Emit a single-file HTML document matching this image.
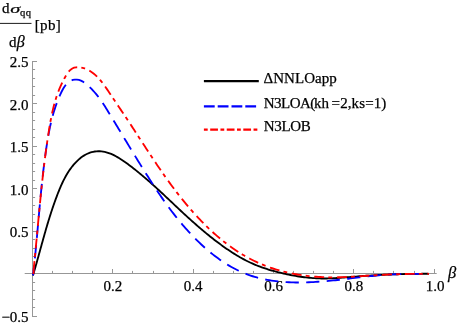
<!DOCTYPE html>
<html><head><meta charset="utf-8"><title>plot</title><style>
html,body{margin:0;padding:0;background:#fff;}
svg{display:block;will-change:transform;font-family:"Liberation Serif",serif;font-size:15px;fill:#000;}
text{stroke:#000;stroke-width:0.25px;}
</style></head><body>
<svg width="457" height="324" viewBox="0 0 457 324">
<rect width="457" height="324" fill="#fff"/>
<g stroke="#979797" stroke-width="1" fill="none">
<line x1="24.7" y1="273.5" x2="436.7" y2="273.5"/>
<line x1="32.5" y1="61.0" x2="32.5" y2="317.0"/>
<line x1="52.5" y1="273.5" x2="52.5" y2="270.90"/>
<line x1="72.5" y1="273.5" x2="72.5" y2="270.90"/>
<line x1="92.5" y1="273.5" x2="92.5" y2="270.90"/>
<line x1="112.5" y1="273.5" x2="112.5" y2="269.00"/>
<line x1="132.5" y1="273.5" x2="132.5" y2="270.90"/>
<line x1="153.5" y1="273.5" x2="153.5" y2="270.90"/>
<line x1="173.5" y1="273.5" x2="173.5" y2="270.90"/>
<line x1="193.5" y1="273.5" x2="193.5" y2="269.00"/>
<line x1="213.5" y1="273.5" x2="213.5" y2="270.90"/>
<line x1="233.5" y1="273.5" x2="233.5" y2="270.90"/>
<line x1="253.5" y1="273.5" x2="253.5" y2="270.90"/>
<line x1="273.5" y1="273.5" x2="273.5" y2="269.00"/>
<line x1="293.5" y1="273.5" x2="293.5" y2="270.90"/>
<line x1="313.5" y1="273.5" x2="313.5" y2="270.90"/>
<line x1="333.5" y1="273.5" x2="333.5" y2="270.90"/>
<line x1="353.5" y1="273.5" x2="353.5" y2="269.00"/>
<line x1="373.5" y1="273.5" x2="373.5" y2="270.90"/>
<line x1="393.5" y1="273.5" x2="393.5" y2="270.90"/>
<line x1="414.5" y1="273.5" x2="414.5" y2="270.90"/>
<line x1="434.5" y1="273.5" x2="434.5" y2="269.00"/>
<line x1="32.5" y1="316.5" x2="37.00" y2="316.5"/>
<line x1="32.5" y1="307.5" x2="35.10" y2="307.5"/>
<line x1="32.5" y1="299.5" x2="35.10" y2="299.5"/>
<line x1="32.5" y1="290.5" x2="35.10" y2="290.5"/>
<line x1="32.5" y1="282.5" x2="35.10" y2="282.5"/>
<line x1="32.5" y1="265.5" x2="35.10" y2="265.5"/>
<line x1="32.5" y1="256.5" x2="35.10" y2="256.5"/>
<line x1="32.5" y1="248.5" x2="35.10" y2="248.5"/>
<line x1="32.5" y1="239.5" x2="35.10" y2="239.5"/>
<line x1="32.5" y1="231.5" x2="37.00" y2="231.5"/>
<line x1="32.5" y1="222.5" x2="35.10" y2="222.5"/>
<line x1="32.5" y1="214.5" x2="35.10" y2="214.5"/>
<line x1="32.5" y1="205.5" x2="35.10" y2="205.5"/>
<line x1="32.5" y1="197.5" x2="35.10" y2="197.5"/>
<line x1="32.5" y1="188.5" x2="37.00" y2="188.5"/>
<line x1="32.5" y1="180.5" x2="35.10" y2="180.5"/>
<line x1="32.5" y1="171.5" x2="35.10" y2="171.5"/>
<line x1="32.5" y1="163.5" x2="35.10" y2="163.5"/>
<line x1="32.5" y1="154.5" x2="35.10" y2="154.5"/>
<line x1="32.5" y1="146.5" x2="37.00" y2="146.5"/>
<line x1="32.5" y1="137.5" x2="35.10" y2="137.5"/>
<line x1="32.5" y1="129.5" x2="35.10" y2="129.5"/>
<line x1="32.5" y1="120.5" x2="35.10" y2="120.5"/>
<line x1="32.5" y1="112.5" x2="35.10" y2="112.5"/>
<line x1="32.5" y1="103.5" x2="37.00" y2="103.5"/>
<line x1="32.5" y1="95.5" x2="35.10" y2="95.5"/>
<line x1="32.5" y1="86.5" x2="35.10" y2="86.5"/>
<line x1="32.5" y1="78.5" x2="35.10" y2="78.5"/>
<line x1="32.5" y1="69.5" x2="35.10" y2="69.5"/>
<line x1="32.5" y1="61.5" x2="37.00" y2="61.5"/>
</g>
<g>
<text x="112.90" y="291.0" text-anchor="middle">0.2</text>
<text x="193.20" y="291.0" text-anchor="middle">0.4</text>
<text x="273.50" y="291.0" text-anchor="middle">0.6</text>
<text x="353.80" y="291.0" text-anchor="middle">0.8</text>
<text x="435.00" y="291.0" text-anchor="middle">1.0</text>
<text x="28.6" y="237.10" text-anchor="end">0.5</text>
<text x="28.6" y="194.60" text-anchor="end">1.0</text>
<text x="28.6" y="152.10" text-anchor="end">1.5</text>
<text x="28.6" y="109.60" text-anchor="end">2.0</text>
<text x="28.6" y="67.10" text-anchor="end">2.5</text>
<text x="28.6" y="322.10" text-anchor="end">−0.5</text>
</g>
<g fill="none" stroke-width="1.85">
<path d="M33.00,275.40 33.50,273.72 33.99,272.04 34.47,270.36 34.96,268.68 35.44,267.00 35.91,265.33 36.38,263.65 36.85,261.97 37.32,260.30 37.79,258.62 38.25,256.95 38.72,255.27 39.18,253.60 39.64,251.93 40.10,250.25 40.56,248.58 41.02,246.91 41.48,245.24 41.94,243.57 42.40,241.91 42.87,240.24 43.33,238.57 43.80,236.91 44.27,235.24 44.74,233.58 45.22,231.92 45.69,230.26 46.17,228.60 46.66,226.94 47.15,225.28 47.64,223.62 48.14,221.97 48.65,220.31 49.15,218.66 49.67,217.01 50.19,215.36 50.72,213.71 51.25,212.06 51.79,210.42 52.34,208.77 52.89,207.13 53.45,205.49 54.03,203.85 54.60,202.21 55.19,200.57 55.79,198.94 56.40,197.31 57.01,195.67 57.64,194.04 58.27,192.41 58.92,190.79 59.58,189.17 60.26,187.55 60.95,185.94 61.67,184.34 62.40,182.75 63.16,181.17 63.94,179.61 64.74,178.06 65.58,176.52 66.44,175.00 67.34,173.49 68.26,172.01 69.23,170.55 70.22,169.11 71.26,167.69 72.34,166.30 73.46,164.93 74.62,163.60 75.83,162.30 77.07,161.04 78.36,159.83 79.68,158.67 81.04,157.58 82.44,156.56 83.88,155.61 85.35,154.74 86.86,153.96 88.40,153.27 89.97,152.69 91.57,152.20 93.19,151.82 94.83,151.53 96.48,151.35 98.13,151.26 99.79,151.27 101.45,151.38 103.10,151.59 104.74,151.90 106.36,152.29 107.97,152.77 109.57,153.33 111.16,153.96 112.74,154.66 114.30,155.42 115.86,156.23 117.40,157.10 118.93,158.02 120.44,158.97 121.94,159.95 123.44,160.97 124.91,162.00 126.38,163.06 127.83,164.12 129.28,165.19 130.71,166.27 132.12,167.35 133.53,168.44 134.93,169.54 136.31,170.64 137.69,171.74 139.05,172.85 140.41,173.97 141.76,175.09 143.10,176.21 144.43,177.34 145.75,178.48 147.07,179.61 148.38,180.76 149.68,181.90 150.97,183.05 152.26,184.20 153.55,185.36 154.83,186.52 156.10,187.68 157.37,188.84 158.64,190.01 159.91,191.18 161.17,192.35 162.42,193.52 163.68,194.69 164.93,195.87 166.18,197.05 167.44,198.23 168.69,199.41 169.94,200.59 171.19,201.77 172.44,202.95 173.69,204.13 174.94,205.31 176.19,206.49 177.45,207.67 178.70,208.86 179.97,210.04 181.23,211.21 182.50,212.39 183.77,213.57 185.04,214.75 186.32,215.92 187.60,217.09 188.89,218.26 190.18,219.43 191.47,220.59 192.77,221.75 194.08,222.91 195.39,224.06 196.70,225.21 198.01,226.36 199.33,227.50 200.66,228.63 201.99,229.76 203.32,230.89 204.66,232.01 206.01,233.12 207.36,234.23 208.71,235.33 210.07,236.42 211.43,237.51 212.80,238.58 214.17,239.65 215.55,240.72 216.93,241.77 218.32,242.82 219.72,243.85 221.11,244.88 222.52,245.90 223.93,246.90 225.34,247.90 226.77,248.89 228.19,249.86 229.63,250.82 231.07,251.77 232.52,252.71 233.98,253.63 235.44,254.54 236.91,255.44 238.39,256.31 239.88,257.18 241.38,258.02 242.89,258.85 244.40,259.67 245.93,260.46 247.47,261.24 249.01,262.00 250.57,262.74 252.14,263.45 253.72,264.15 255.30,264.83 256.91,265.49 258.52,266.12 260.14,266.73 261.78,267.33 263.42,267.90 265.07,268.46 266.73,268.99 268.40,269.51 270.07,270.02 271.75,270.51 273.44,270.98 275.13,271.43 276.82,271.88 278.52,272.31 280.22,272.72 281.92,273.13 283.63,273.52 285.34,273.91 287.04,274.28 288.75,274.63 290.46,274.98 292.17,275.31 293.89,275.63 295.60,275.93 297.31,276.22 299.03,276.50 300.75,276.75 302.47,277.00 304.18,277.22 305.90,277.43 307.62,277.62 309.35,277.79 311.07,277.95 312.79,278.08 314.52,278.20 316.24,278.30 317.97,278.37 319.70,278.43 321.42,278.47 323.15,278.48 324.88,278.48 326.61,278.46 328.34,278.42 330.07,278.37 331.80,278.30 333.53,278.22 335.26,278.13 337.00,278.03 338.73,277.92 340.46,277.80 342.20,277.68 343.93,277.54 345.67,277.41 347.40,277.27 349.13,277.13 350.87,276.98 352.60,276.84 354.34,276.69 356.07,276.55 357.81,276.42 359.54,276.28 361.28,276.15 363.01,276.02 364.75,275.90 366.49,275.78 368.22,275.66 369.96,275.55 371.69,275.44 373.43,275.33 375.16,275.23 376.90,275.13 378.63,275.04 380.37,274.94 382.11,274.86 383.84,274.77 385.58,274.69 387.31,274.61 389.05,274.54 390.79,274.46 392.52,274.40 394.26,274.33 395.99,274.27 397.73,274.21 399.47,274.16 401.20,274.11 402.94,274.07 404.68,274.02 406.41,273.98 408.15,273.95 409.89,273.92 411.63,273.89 413.36,273.86 415.10,273.84 416.84,273.82 418.57,273.81 420.31,273.80 422.05,273.79 423.79,273.79 425.52,273.79 427.26,273.79 429.00,273.80" stroke="#000"/>
<path d="M33.00,275.40 33.25,273.24 33.50,271.08 33.75,268.92 33.99,266.75 34.22,264.58 34.45,262.41 34.68,260.24 34.91,258.07 35.13,255.90 35.34,253.72 35.56,251.54 35.77,249.37 35.98,247.19 36.19,245.00 36.39,242.82 36.59,240.64 36.79,238.45 36.99,236.27 37.19,234.08 37.39,231.90 37.58,229.71 37.78,227.52 37.97,225.33 38.17,223.14 38.36,220.96 38.56,218.77 38.76,216.58 38.95,214.39 39.15,212.20 39.35,210.01 39.55,207.82 39.75,205.63 39.95,203.44 40.15,201.25 40.36,199.07 40.57,196.88 40.78,194.69 40.99,192.51 41.21,190.32 41.43,188.14 41.65,185.96 41.88,183.77 42.11,181.59 42.35,179.42 42.58,177.24 42.83,175.06 43.08,172.89 43.33,170.71 43.59,168.54 43.85,166.37 44.12,164.20 44.39,162.04 44.68,159.87 44.96,157.71 45.25,155.55 45.55,153.39 45.86,151.24 46.17,149.08 46.49,146.93 46.82,144.79 47.16,142.64 47.50,140.50 47.86,138.36 48.23,136.22 48.61,134.08 49.01,131.95 49.43,129.82 49.86,127.69 50.31,125.56 50.79,123.44 51.29,121.31 51.81,119.19 52.36,117.07 52.94,114.96 53.54,112.84 54.18,110.72 54.85,108.61 55.56,106.50 56.30,104.39 57.07,102.28 57.89,100.17 58.74,98.06 59.64,95.95 60.58,93.85 61.57,91.76 62.62,89.72 63.74,87.76 64.96,85.93 66.28,84.26 67.71,82.79 69.28,81.55 70.98,80.58 72.85,79.92 74.83,79.59 76.87,79.59 78.91,79.94 80.91,80.62 82.84,81.60 84.71,82.82 86.51,84.21 88.25,85.73 89.92,87.32 91.53,88.93 93.07,90.58 94.56,92.25 95.99,93.94 97.38,95.66 98.72,97.40 100.02,99.16 101.28,100.94 102.51,102.74 103.71,104.54 104.89,106.36 106.06,108.20 107.20,110.04 108.34,111.89 109.47,113.74 110.61,115.60 111.74,117.46 112.87,119.32 114.00,121.19 115.13,123.06 116.26,124.93 117.39,126.80 118.52,128.68 119.66,130.56 120.79,132.44 121.93,134.31 123.06,136.20 124.20,138.08 125.33,139.96 126.47,141.84 127.61,143.72 128.75,145.61 129.89,147.49 131.04,149.37 132.18,151.25 133.33,153.13 134.47,155.01 135.62,156.89 136.77,158.76 137.93,160.64 139.08,162.51 140.24,164.38 141.40,166.24 142.56,168.11 143.72,169.97 144.89,171.82 146.05,173.68 147.22,175.53 148.40,177.37 149.57,179.22 150.75,181.05 151.94,182.89 153.13,184.72 154.32,186.54 155.52,188.36 156.73,190.17 157.94,191.98 159.16,193.78 160.38,195.58 161.62,197.37 162.86,199.15 164.11,200.93 165.37,202.70 166.64,204.47 167.92,206.22 169.21,207.97 170.51,209.72 171.82,211.45 173.14,213.18 174.48,214.90 175.82,216.61 177.18,218.31 178.56,220.01 179.94,221.69 181.34,223.37 182.76,225.04 184.19,226.70 185.64,228.35 187.10,229.98 188.58,231.61 190.08,233.23 191.59,234.84 193.12,236.44 194.67,238.02 196.23,239.60 197.81,241.15 199.41,242.69 201.03,244.22 202.66,245.73 204.31,247.22 205.97,248.69 207.65,250.14 209.35,251.57 211.06,252.98 212.79,254.36 214.54,255.72 216.30,257.05 218.07,258.36 219.87,259.64 221.68,260.89 223.50,262.11 225.34,263.30 227.19,264.46 229.06,265.59 230.95,266.69 232.85,267.75 234.77,268.77 236.70,269.76 238.64,270.71 240.60,271.62 242.58,272.50 244.57,273.33 246.57,274.12 248.59,274.87 250.62,275.58 252.67,276.25 254.72,276.88 256.79,277.47 258.88,278.02 260.97,278.53 263.07,279.01 265.19,279.46 267.31,279.87 269.45,280.25 271.59,280.59 273.74,280.90 275.90,281.18 278.07,281.44 280.24,281.66 282.42,281.85 284.60,282.02 286.79,282.16 288.99,282.27 291.19,282.36 293.39,282.43 295.60,282.47 297.81,282.49 300.02,282.49 302.24,282.46 304.45,282.42 306.67,282.36 308.88,282.28 311.10,282.18 313.32,282.07 315.53,281.94 317.74,281.79 319.95,281.64 322.16,281.46 324.37,281.28 326.57,281.09 328.77,280.88 330.96,280.67 333.15,280.44 335.34,280.21 337.52,279.97 339.70,279.73 341.88,279.48 344.05,279.22 346.23,278.97 348.40,278.71 350.57,278.45 352.73,278.19 354.90,277.93 357.06,277.67 359.23,277.41 361.39,277.15 363.56,276.90 365.72,276.66 367.88,276.42 370.05,276.19 372.21,275.96 374.38,275.74 376.55,275.54 378.71,275.34 380.88,275.15 383.06,274.98 385.23,274.82 387.41,274.67 389.58,274.54 391.77,274.42 393.95,274.32 396.14,274.23 398.33,274.16 400.52,274.10 402.71,274.04 404.90,274.00 407.09,273.96 409.29,273.93 411.48,273.91 413.68,273.89 415.87,273.88 418.06,273.87 420.25,273.85 422.44,273.84 424.63,273.83 426.82,273.82 429.00,273.80" stroke="#0000ff" stroke-dasharray="13.2 7.367" stroke-dashoffset="3.47"/>
<path d="M33.00,275.40 33.24,273.19 33.47,270.98 33.70,268.77 33.93,266.56 34.15,264.34 34.38,262.13 34.60,259.92 34.82,257.71 35.03,255.50 35.25,253.29 35.46,251.08 35.67,248.87 35.88,246.66 36.09,244.45 36.30,242.24 36.51,240.04 36.72,237.83 36.92,235.62 37.13,233.41 37.34,231.20 37.54,228.99 37.75,226.78 37.95,224.58 38.16,222.37 38.37,220.16 38.58,217.95 38.78,215.75 38.99,213.54 39.20,211.33 39.41,209.13 39.63,206.92 39.84,204.71 40.06,202.51 40.27,200.30 40.49,198.09 40.72,195.89 40.94,193.68 41.17,191.48 41.39,189.27 41.63,187.07 41.86,184.86 42.10,182.66 42.34,180.45 42.58,178.25 42.83,176.05 43.08,173.84 43.33,171.64 43.59,169.44 43.85,167.23 44.11,165.03 44.38,162.83 44.66,160.63 44.94,158.42 45.22,156.22 45.51,154.02 45.80,151.82 46.10,149.62 46.40,147.42 46.71,145.22 47.02,143.02 47.34,140.82 47.67,138.62 48.00,136.42 48.34,134.22 48.68,132.02 49.03,129.82 49.39,127.62 49.76,125.42 50.14,123.23 50.54,121.04 50.95,118.85 51.38,116.66 51.82,114.48 52.29,112.31 52.79,110.14 53.30,107.98 53.85,105.82 54.42,103.67 55.02,101.54 55.66,99.41 56.33,97.28 57.04,95.17 57.78,93.07 58.57,90.99 59.39,88.91 60.26,86.85 61.18,84.80 62.14,82.76 63.16,80.74 64.22,78.73 65.34,76.74 66.51,74.77 67.77,72.89 69.13,71.17 70.63,69.68 72.29,68.51 74.14,67.71 76.15,67.30 78.27,67.23 80.43,67.43 82.57,67.86 84.64,68.48 86.63,69.25 88.54,70.17 90.37,71.23 92.14,72.42 93.83,73.72 95.47,75.14 97.05,76.65 98.58,78.25 100.06,79.92 101.50,81.66 102.90,83.46 104.27,85.31 105.61,87.19 106.93,89.10 108.23,91.02 109.52,92.95 110.80,94.88 112.07,96.79 113.34,98.69 114.60,100.57 115.86,102.45 117.12,104.31 118.37,106.17 119.62,108.02 120.86,109.86 122.10,111.70 123.33,113.54 124.56,115.37 125.78,117.20 127.00,119.03 128.21,120.86 129.42,122.70 130.63,124.53 131.83,126.37 133.03,128.20 134.23,130.04 135.42,131.88 136.62,133.71 137.81,135.55 139.00,137.39 140.19,139.23 141.38,141.07 142.58,142.90 143.77,144.74 144.96,146.58 146.16,148.42 147.36,150.26 148.56,152.09 149.77,153.93 150.97,155.76 152.19,157.60 153.40,159.43 154.63,161.26 155.85,163.09 157.09,164.92 158.33,166.75 159.57,168.58 160.83,170.41 162.09,172.23 163.36,174.05 164.64,175.87 165.92,177.69 167.22,179.51 168.53,181.32 169.84,183.13 171.17,184.93 172.50,186.73 173.84,188.53 175.20,190.32 176.56,192.10 177.93,193.88 179.31,195.65 180.71,197.42 182.11,199.17 183.53,200.92 184.95,202.66 186.38,204.39 187.83,206.11 189.29,207.83 190.76,209.53 192.23,211.22 193.72,212.89 195.23,214.56 196.74,216.21 198.26,217.85 199.80,219.48 201.35,221.09 202.91,222.69 204.48,224.28 206.06,225.85 207.66,227.40 209.27,228.94 210.89,230.46 212.52,231.96 214.17,233.45 215.83,234.92 217.50,236.37 219.19,237.80 220.89,239.21 222.60,240.60 224.32,241.97 226.06,243.32 227.81,244.65 229.58,245.96 231.36,247.24 233.15,248.50 234.96,249.74 236.79,250.96 238.62,252.15 240.47,253.32 242.34,254.46 244.22,255.57 246.11,256.66 248.02,257.73 249.95,258.76 251.89,259.77 253.84,260.75 255.82,261.70 257.80,262.63 259.80,263.52 261.82,264.39 263.85,265.22 265.90,266.02 267.97,266.80 270.05,267.54 272.14,268.25 274.25,268.94 276.36,269.59 278.49,270.22 280.64,270.82 282.79,271.39 284.95,271.93 287.12,272.44 289.31,272.93 291.49,273.39 293.69,273.82 295.90,274.23 298.11,274.61 300.32,274.96 302.54,275.29 304.77,275.59 307.00,275.87 309.23,276.12 311.46,276.35 313.70,276.55 315.94,276.73 318.17,276.89 320.41,277.02 322.65,277.13 324.88,277.22 327.12,277.28 329.35,277.32 331.58,277.34 333.80,277.34 336.02,277.32 338.24,277.29 340.46,277.23 342.67,277.16 344.88,277.08 347.09,276.98 349.30,276.87 351.51,276.75 353.72,276.63 355.92,276.49 358.12,276.35 360.33,276.21 362.53,276.07 364.74,275.92 366.94,275.77 369.15,275.62 371.35,275.48 373.56,275.34 375.77,275.21 377.98,275.08 380.19,274.96 382.40,274.84 384.62,274.73 386.83,274.63 389.05,274.53 391.26,274.44 393.48,274.36 395.70,274.28 397.92,274.21 400.14,274.14 402.36,274.08 404.58,274.03 406.80,273.98 409.02,273.93 411.24,273.90 413.46,273.87 415.68,273.84 417.90,273.82 420.12,273.81 422.34,273.80 424.56,273.79 426.78,273.79 429.00,273.80" stroke="#ff0000" stroke-dasharray="9.9 4.15 3.9 4.707" stroke-dashoffset="18.127"/>
<path d="M33.00,275.40 33.28,273.94 33.54,272.48 33.79,271.02 34.03,269.55 34.25,268.09 34.46,266.62 34.66,265.16 34.85,263.69 35.03,262.22 35.20,260.75 35.37,259.28 35.52,257.80 35.67,256.33 35.80,254.85 35.94,253.38 36.06,251.90 36.18,250.43 36.30,248.95 36.41,247.47 36.52,245.99 36.62,244.52 36.72,243.04 36.82,241.56 36.92,240.08 37.01,238.60 37.11,237.12 37.20,235.64 37.30,234.17 37.40,232.69 37.50,231.21 37.60,229.73 37.70,228.25 37.80,226.77 37.91,225.30 38.02,223.82 38.13,222.34 38.24,220.87 38.36,219.39 38.49,217.91 38.61,216.44 38.74,214.96 38.88,213.49 39.02,212.01 39.16,210.54 39.30,209.06 39.44,207.59 39.59,206.11 39.73,204.64 39.87,203.16 40.02,201.69 40.16,200.21 40.29,198.74 40.42,197.26 40.55,195.79 40.67,194.31 40.79,192.83 40.90,191.36 41.00,189.88 41.10,188.40" stroke="#ff0000" stroke-dasharray="0 1.4 3.4 10000"/>
</g>
<g fill="none" stroke-width="2.3">
<line x1="203.9" y1="81.1" x2="258.8" y2="81.1" stroke="#000"/>
<line x1="203.9" y1="106.3" x2="256.2" y2="106.3" stroke="#0000ff" stroke-dasharray="10.8 3.0"/>
<line x1="203.9" y1="129.6" x2="257.4" y2="129.6" stroke="#ff0000" stroke-dasharray="3.8 2.5 7.75 2.5"/>
</g>
<text x="263.5" y="83.0" letter-spacing="0.05">ΔNNLOapp</text>
<text y="107.8"><tspan x="263.7" letter-spacing="-0.5">N3LOA(</tspan><tspan x="314.0" letter-spacing="0.1">kh</tspan><tspan x="331.6" letter-spacing="0.1">=2,ks=1)</tspan></text>
<text x="263.7" y="131.0" letter-spacing="-0.3">N3LOB</text>
<text x="447.9" y="277.6" font-style="italic" font-size="16.5px">β</text>
<text x="2" y="13.2">d</text>
<text transform="translate(10.3,13.2) scale(1.36,0.9)" font-style="italic" stroke="none">σ</text>
<text x="19.9" y="15.5" font-size="10.6px">q</text>
<text x="25.7" y="15.5" font-size="10.6px">q</text>
<line x1="0" y1="23.4" x2="31.5" y2="23.4" stroke="#000" stroke-width="0.9"/>
<text x="34.8" y="30.4" letter-spacing="0.33">[pb]</text>
<text x="9.1" y="46.9">d<tspan font-style="italic" font-size="16px" dx="0.2">β</tspan></text>
</svg>
</body></html>
